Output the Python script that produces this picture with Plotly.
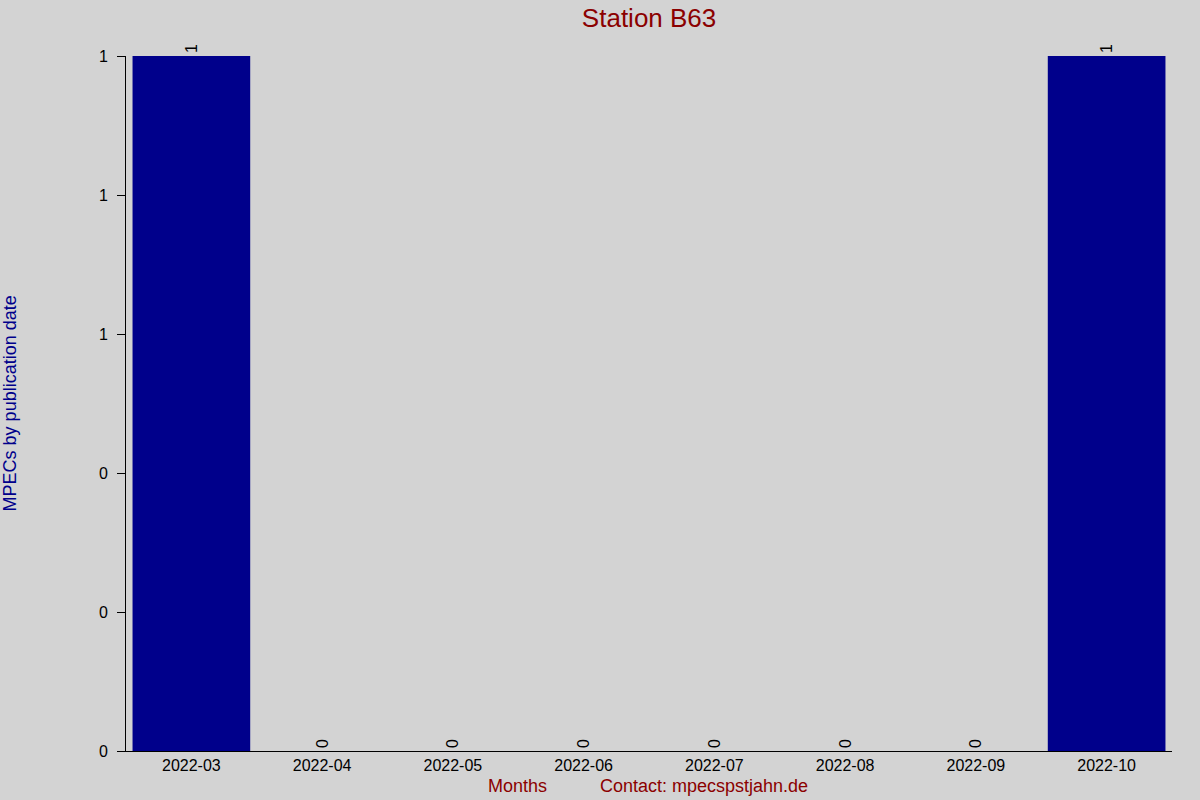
import plotly.graph_objects as go

# data
months = ["2022-03", "2022-04", "2022-05", "2022-06", "2022-07", "2022-08", "2022-09", "2022-10"]
mpecs = [1, 0, 0, 0, 0, 0, 0, 1]
y_ticks = [0, 0.2, 0.4, 0.6, 0.8, 1.0]

bg = "#d3d3d3"
fnt = "Liberation Sans, Arial, sans-serif"

fig = go.Figure()
fig.add_trace(
    go.Bar(
        x=months,
        y=mpecs,
        marker_color="#00008b",
        marker_line_width=0,
        width=0.9,
        text=[str(v) for v in mpecs],
        textposition="outside",
        textangle=-90,
        textfont=dict(family=fnt, size=16, color="black"),
        cliponaxis=False,
    )
)

fig.update_layout(
    width=1200,
    height=800,
    paper_bgcolor=bg,
    plot_bgcolor=bg,
    showlegend=False,
    font=dict(family=fnt, size=16, color="black"),
    margin=dict(l=126, r=28, t=56, b=49),
    title=dict(
        text="Station B63",
        x=0.5409, xanchor="center",
        y=0.978, yanchor="middle",
        font=dict(family=fnt, size=26, color="#8b0000"),
    ),
    xaxis=dict(
        type="category",
        range=[-0.5, 7.5],
        showline=True, linecolor="black", linewidth=1,
        showgrid=False, ticks="", zeroline=False,
        tickfont=dict(family=fnt, size=16, color="black"),
    ),
    yaxis=dict(
        range=[0, 1],
        tickvals=y_ticks,
        tickformat=".0f",
        showline=True, linecolor="black", linewidth=1,
        showgrid=False, zeroline=False,
        ticks="outside", ticklen=8, tickcolor="black",
        ticklabelstandoff=6,
        tickfont=dict(family=fnt, size=16, color="black"),
    ),
    annotations=[
        dict(text="MPECs by publication date", xref="paper", yref="paper",
             x=-0.111, y=0.5, xanchor="center", yanchor="middle", textangle=-90,
             showarrow=False, font=dict(family=fnt, size=18, color="#00008b")),
        dict(text="Months", xref="paper", yref="paper",
             x=(517 - 126) / 1046, y=-0.05, xanchor="center", yanchor="middle",
             showarrow=False, font=dict(family=fnt, size=18, color="#8b0000")),
        dict(text="Contact: mpecspstjahn.de", xref="paper", yref="paper",
             x=(704 - 126) / 1046, y=-0.05, xanchor="center", yanchor="middle",
             showarrow=False, font=dict(family=fnt, size=18, color="#8b0000")),
    ],
)

fig.write_html(
    "out.html",
    config={"displayModeBar": False},
    post_script="document.body.style.margin='0';",
)
